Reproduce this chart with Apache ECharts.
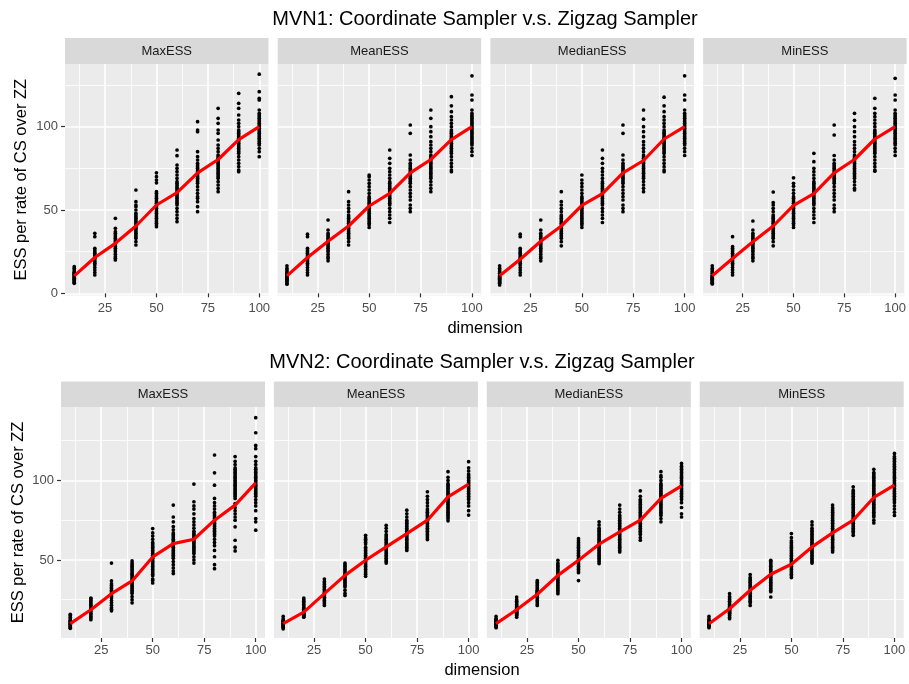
<!DOCTYPE html>
<html>
<head>
<meta charset="utf-8">
<script src="https://cdn.jsdelivr.net/npm/echarts@6/dist/echarts.min.js"></script>
<style>html,body{margin:0;padding:0;background:#fff;}#c{width:909px;height:684px;}</style>
</head>
<body>
<div id="c"></div>
<script>
// ---------- data ----------
const dims = [10, 20, 30, 40, 50, 60, 70, 80, 90, 100];
const facetLabels = ['MaxESS', 'MeanESS', 'MedianESS', 'MinESS'];
const plotTitles = ['MVN1: Coordinate Sampler v.s. Zigzag Sampler', 'MVN2: Coordinate Sampler v.s. Zigzag Sampler'];
const xTicks = [25, 50, 75, 100];
const xMinorTicks = [12.5, 37.5, 62.5, 87.5];
const yTicksTop = [0, 50, 100];
const yTicksBottom = [50, 100];
const yMinorTicks = [25, 75, 125];

// MVN1 points per dimension
const mvn1Max = [
  [6,6.5,7,7.5,8,8.5,9,9.5,10,10.5,11,11.5,12,12.5,13,14,15,16],
  [11,12.5,14,15.5,17,18,19,20,21,22,23,24,25,26,27,34,36],
  [20,21,22,23.5,25,26,27,28,29,30,31,32,33,34,35,36,37,39,45],
  [29,31,33,34,35,36,37,38,39,40,41,42,43,44,45,46,47,48,50,52,53,55,62],
  [40,41,42,43,44,45,46,47,48,49,50,51,52,53,54,55,56,57,58,59,60,61,66.3,68,70,72.3],
  [43,45,47,49,51,53,54,55,56,57,58,59,60,61,62,63,64,65,66,67,69,71,73,75,77,82.6,86],
  [49,52,55,57,58,60,62,64,66,67,68,69,70,71,72,73,74,75,76,77,78,80,82,85,97,98,103],
  [61,63,65,67,69,70,71,72,73,74,75,76,77,78,79,80,81,82,83,85,87,89,92,96,98,102,105,111],
  [73,74,76,78,80,82,84,85,86,87,88,89,90,91,92,93,94,95,96,97,98,100,102,104,107,111,114,120],
  [82,85,87,89,90,91,92,93,94,95,96,97,98,99,100,101,102,103,104,105,106,107,108,110,116,117,121,131.5]
];
const mvn1Mean = [
  [5.5,6,7,7.5,8,8.5,9,9.5,10,10.5,11,11.5,12,13,14,15,16.5],
  [11,12.5,14,15.5,17,18,19,20,21,22,23,24,25,26,27,34,35.5],
  [19.5,21,22,23.5,25,26,27,28,29,30,31,32,33,34,35,36,38,44],
  [29,31,33,34,35,36,37,38,39,40,41,42,43,44,45,46,47,49,51,53,55,61],
  [39.5,41,42,43,44,45,46,47,48,49,50,51,52,53,54,55,56,57,58,60,62,64,66,68,70,71],
  [42.5,45,47,49,51,53,54,55,56,57,58,59,60,61,62,63,64,65,66,67,69,71,73,75,78,81,86],
  [49,51,53,56,58,60,62,64,66,67,68,69,70,71,72,73,74,75,76,77,78,80,83,96,101],
  [61,63,65,67,69,70,71,72,73,74,75,76,77,78,79,80,81,82,83,85,87,89,91,94,97,100,105,110],
  [73,74,76,78,80,82,84,85,86,87,88,89,90,91,92,93,94,95,96,97,98,100,102,104,106,109,112.5,118],
  [82.7,85,87,89,90,91,92,93,94,95,96,97,98,99,100,101,102,103,104,105,106,107,108,110,116,119,130.5]
];
const mvn1Median = [
  [5,6,6.5,7,7.5,8,8.5,9,9.5,10,10.5,11,12,13,14,15,16.5],
  [11,12.5,14,15.5,17,18,19,20,21,22,23,24,25,26,27,34,35.5],
  [19.5,21,22,23.5,25,26,27,28,29,30,31,32,33,34,35,36,38,44],
  [28.5,31,33,34,35,36,37,38,39,40,41,42,43,44,45,46,47,49,51,53,55,61],
  [39.5,41,42,43,44,45,46,47,48,49,50,51,52,53,54,55,56,57,58,60,62,64,66,68,71],
  [42.5,45,47,49,51,53,54,55,56,57,58,59,60,61,62,63,64,65,66,67,69,71,73,75,78,81,86],
  [49,51,53,56,58,60,62,64,66,67,68,69,70,71,72,73,74,75,76,77,78,80,83,96,101],
  [61,63,65,67,69,70,71,72,73,74,75,76,77,78,79,80,81,82,83,85,87,89,91,94,97,100,104.5,110],
  [73,74,76,78,80,82,84,85,86,87,88,89,90,91,92,93,94,95,96,97,98,100,102,104,106,109,112.5,117.7],
  [82.7,85,87,89,90,91,92,93,94,95,96,97,98,99,100,101,102,103,104,105,106,107,108,110,116,119,130.5]
];
const mvn1Min = [
  [5.6,6,6.5,7,7.5,8,8.5,9,9.5,10,10.5,11,12,13,14,15,16.5],
  [11,12.5,14,15.5,17,18,19,20,21,22,23,24,25,26,27,28,34],
  [19.5,21,22,23.5,25,26,27,28,29,30,31,32,33,34,35,36,38,43.4],
  [28.5,31,33,34,35,36,37,38,39,40,41,42,43,44,45,46,47,49,51,53,54.5,60.8],
  [39.5,41,42,43,44,45,46,47,48,49,50,51,52,53,54,55,56,57,58,60,62,64.3,66,69.3],
  [42.5,45,47,49,51,53,54,55,56,57,58,59,60,61,62,63,64,65,66,67,69,71,73,75,79,84],
  [49,51,53,56,58,60,62,64,66,67,68,69,70,71,72,73,74,75,76,77,78,80,82.7,95,101],
  [62,63,65,67,69,70,71,72,73,74,75,76,77,78,79,80,81,82,83,85,87,89,91,94,97,100,103.8,108],
  [73.3,74,76,78,80,82,84,85,86,87,88,89,90,91,92,93,94,95,96,97,98,100,102,104,106,108,111,117],
  [82.7,85,87,89,90,91,92,93,94,95,96,97,98,99,100,101,102,103,104,105,106,107,108,110,116,119,129]
];
// MVN1 red line (per-dimension average)
const mvn1MaxLine = [10.5, 21.5, 30, 40.4, 53, 60.4, 72.3, 80.3, 92.2, 100];
const mvn1MeanLine = [10.5, 21.5, 31.2, 40.4, 52.4, 60, 72.3, 80.3, 92.2, 100];
const mvn1MedianLine = [10.5, 20.5, 31.2, 40.4, 52.8, 59.8, 72.3, 79.7, 92.6, 100];
const mvn1MinLine = [10.5, 20.9, 30.9, 40.4, 52.8, 59.8, 72.3, 80.3, 92.6, 100];

// MVN2 points per dimension
const mvn2Max = [
  [7,7.5,8,8.5,9,9.5,10,10.5,11,11.5,12,13,14,15,15.8],
  [12.4,13.5,14.5,15.5,16.5,17.5,18.5,19.5,20.5,21.5,22.5,23.5,24.5,25.5,26],
  [18,19,20,21.5,23,24.5,26,27,28,29,30,31,32,33,34,35,36.8,48],
  [23,25,27,29,30,31,32,33,34,35,36,37,38,39,40,41,42,43,44,45,46,47,48,49.4],
  [35.5,37,38,40,41,42,43,44,45,46,47,48,49,50,51,52,53,54,55,56,57,58,59,60,61,63,65,67,69.7],
  [41.4,43,45,47,49,51,52,53,54,55,56,57,58,59,60,61,62,63,64,65,66,67,69,71,74,77,84.5],
  [48,50,52,54,55,56,57,58,59,60,61,62,63,64,65,66,67,68,70,72,74,76,79,82,84,86.6,97.7],
  [44.5,47,52,56,59,61,63,65,66,67,68,69,70,71,72,73,74,75,76,77,78,79,80,82,84,86,88.7,97,104.8,116],
  [55.7,58,62.4,70.8,75,77,79,81,83,85.5,88.7,90,91,92,93,94,95,96,97,98,99,100,101,102,103,104,105,106,107,108,110,112,115],
  [68.7,74,76,81,84,86,88,90,91,92,93,94,95,96,97,98,99,100,101,102,103,104,105,106,107,108,110,112,115,120,122,130,139.5]
];
const mvn2Mean = [
  [6.7,7.5,8,8.5,9,9.5,10,10.5,11,11.5,12,13,14.5],
  [14,14.5,15,15.5,16,16.5,17,17.5,18,18.5,19,19.5,20,21,22,23,24,25,26],
  [21.4,22.5,23.5,24.5,25.5,26.5,27.5,28.5,29.5,30.5,31.5,32.5,33.5,34.5,35.5,36.5,38],
  [27.7,29,31,33,34,35,36,37,38,39,40,41,42,43,44,45,46,47,48],
  [39.7,41,42,43,44,45,46,47,48,49,50,51,52,53,54,55,56,57,58,60,61,62,63,64,65.5],
  [48,49,50,51,52,53,54,55,56,57,58,59,60,61,62,63,64,65,66,68,70,71.8],
  [56,57,58,59,60,61,62,63,64,65,66,67,68,69,70,71,72,73,74,75,77,79,81.3],
  [62.8,64,65,66,67,68,69,70,71,72,73,74,75,76,77,78,79,80,81,82,84,86,88,90,92.9],
  [74.6,76,77,78,79,80,81,82,83,84,85,86,87,88,89,90,91,92,93,94,95,96,97,98,100,102,105.5],
  [78.2,81,84,86,88,89,90,91,92,93,94,95,96,97,98,99,100,101,102,103,104,106,108,111.8]
];
const mvn2Median = [
  [7.4,8,8.5,9,9.5,10,10.5,11,11.5,12,12.5,13,14.5],
  [14,15,15.5,16,16.5,17,17.5,18,18.5,19,19.5,20,20.5,21,22,23,24,25,26.7],
  [21.4,22.5,23.5,24.5,25.5,26.5,27.5,28,28.5,29,29.5,30,30.5,31,32,33,34,35,36,37],
  [28.8,30,31,32,33,34,35,36,37,38,39,40,41,42,43,44,45,46,47,48,49.8],
  [37,42,43,44,45,46,47,48,49,50,51,52,53,54,55,56,57,58,59,60,61,62,63.4],
  [47.7,49,50,51,52,53,54,55,56,57,58,59,60,61,62,63,64,65,66,67,68,69,70,72,74],
  [55,56,57,58,59,60,61,62,63,64,65,66,67,68,69,70,71,72,73,74,75,76,77,78,80,82,84.5],
  [62.4,64,66,67,68,69,70,71,72,73,74,75,76,77,78,79,80,81,82,83,84,85,86,87,88,90,93.5],
  [74,76,78,79,80,81,82,83,84,85,86,87,88,89,90,91,92,93,94,95,96,97,98,100,102,103,105.5],
  [77,79,83,86,88,89,90,91,92,93,94,95,96,97,98,99,100,101,102,103,104,105,106,107,108,109,110.7]
];
const mvn2Min = [
  [7.4,8,8.5,9,9.5,10,10.5,11,11.5,12,13,14.5],
  [13,14,15,16,16.5,17,17.5,18,18.5,19,19.5,20,20.5,21,22,23,24,25,26,27,28.8],
  [21.4,23,24,25,26,27,28,29,30,31,32,33,34,35,36,37,38,39,40.8],
  [26.7,30,31,32,33,34,35,36,37,38,39,40,41,42,43,44,45,46,47,48,49,49.8],
  [38.9,40,41,42,43,44,45,46,47,48,49,50,51,52,53,54,55,56,57,58,59,60,61,62,64,66.6],
  [48,49,50,51,52,53,54,55,56,57,58,59,60,61,62,63,64,65,66,67,68,69,70,72,74],
  [55,56,57,58,59,60,61,62,63,64,65,66,67,68,69,70,71,72,73,74,75,76,77,78,79,80,81,82,83,84.5],
  [65.5,67,68,69,70,71,72,73,74,75,76,77,78,79,80,81,82,83,84,85,86,87,88,89,90,91,92,93,94,96],
  [73.3,75,77,78,79,80,81,82,83,84,85,86,87,88,89,90,91,92,93,94,95,96,97,98,99,100,101,102,103,104,105,107],
  [78,80,82,84,86,87,88,89,90,91,92,93,94,95,96,97,98,99,100,101,102,103,104,105,106,107,108,109,110,111,112,113,114,115,117]
];
// MVN2 red line (per-dimension average)
const mvn2MaxLine = [9.9, 18.7, 28.8, 36.8, 51.9, 60.3, 63, 75, 84.5, 98.5];
const mvn2MeanLine = [9.9, 17.2, 28.8, 40.3, 49.8, 58.2, 66.6, 75, 89.7, 97.7];
const mvn2MedianLine = [9.9, 18.7, 28.4, 40.3, 49.8, 59.9, 67.6, 75, 88.7, 96.6];
const mvn2MinLine = [9.9, 19.3, 30.9, 41, 47.3, 58.2, 67, 75, 89.3, 97.1];

// ---------- layout ----------
const FONT = '"Liberation Sans", Arial, Helvetica, sans-serif';
const plots = [
  { title: plotTitles[0], titleX: 485, titleY: 19, stripTop: 38, top: 64, height: 231.5, left0: 65, step: 212.7, width: 203.5,
    ymin: -1.3, ymax: 137.6, yTicks: yTicksTop, yTitleX: 21.5, xTitleX: 485, xTitleY: 328,
    pts: [mvn1Max, mvn1Mean, mvn1Median, mvn1Min], lines: [mvn1MaxLine, mvn1MeanLine, mvn1MedianLine, mvn1MinLine] },
  { title: plotTitles[1], titleX: 482, titleY: 362, stripTop: 381.5, top: 407, height: 231, left0: 61, step: 212.9, width: 204,
    ymin: 0.9, ymax: 146.2, yTicks: yTicksBottom, yTitleX: 18.5, xTitleX: 482, xTitleY: 670,
    pts: [mvn2Max, mvn2Mean, mvn2Median, mvn2Min], lines: [mvn2MaxLine, mvn2MeanLine, mvn2MedianLine, mvn2MinLine] }
];

const grid = [], xAxis = [], yAxis = [], series = [], graphic = [];
let g = 0;
plots.forEach((p) => {
  graphic.push({ type: 'text', x: p.titleX, y: p.titleY,
    style: { text: p.title, font: '20px ' + FONT, fill: '#000', textAlign: 'center', textVerticalAlign: 'middle' } });
  graphic.push({ type: 'text', x: p.yTitleX, y: p.top + p.height / 2, rotation: Math.PI / 2,
    style: { text: 'ESS per rate of CS over ZZ', font: '16.5px ' + FONT, fill: '#000', textAlign: 'center', textVerticalAlign: 'middle' } });
  graphic.push({ type: 'text', x: p.xTitleX, y: p.xTitleY,
    style: { text: 'dimension', font: '16.5px ' + FONT, fill: '#000', textAlign: 'center', textVerticalAlign: 'middle' } });
  for (let i = 0; i < 4; i++) {
    const left = p.left0 + i * p.step;
    grid.push({ left: left, top: p.top, width: p.width, height: p.height, show: true,
      backgroundColor: '#EBEBEB', borderWidth: 0, containLabel: false });
    graphic.push({ type: 'rect', shape: { x: left, y: p.stripTop, width: p.width, height: p.top - p.stripTop },
      style: { fill: '#D9D9D9' }, silent: true });
    graphic.push({ type: 'text', x: left + p.width / 2, y: (p.stripTop + p.top) / 2,
      style: { text: facetLabels[i], font: '13px ' + FONT, fill: '#1A1A1A', textAlign: 'center', textVerticalAlign: 'middle' } });
    // major x
    xAxis.push({ type: 'value', gridIndex: g, min: 5.5, max: 104.5, position: 'bottom',
      axisLine: { show: false },
      axisTick: { show: true, length: 4, customValues: xTicks, lineStyle: { color: '#333', width: 1.2 } },
      axisLabel: { customValues: xTicks, color: '#4D4D4D', fontSize: 13, fontFamily: FONT, margin: 6 },
      splitLine: { show: true, lineStyle: { color: '#FFFFFF', width: 1.6 } }, z: 2 });
    // minor x
    xAxis.push({ type: 'value', gridIndex: g, min: 5.5, max: 104.5, position: 'top',
      axisLine: { show: false },
      axisTick: { show: false, customValues: xMinorTicks },
      axisLabel: { show: false, customValues: xMinorTicks },
      splitLine: { show: true, lineStyle: { color: '#FFFFFF', width: 0.8 } }, z: 1 });
    // major y
    yAxis.push({ type: 'value', gridIndex: g, min: p.ymin, max: p.ymax, position: 'left',
      axisLine: { show: false },
      axisTick: { show: i === 0, length: 4, customValues: p.yTicks, lineStyle: { color: '#333', width: 1.2 } },
      axisLabel: { show: i === 0, customValues: p.yTicks, color: '#4D4D4D', fontSize: 13, fontFamily: FONT, margin: 7 },
      splitLine: { show: true, lineStyle: { color: '#FFFFFF', width: 1.6 } }, z: 2 });
    // minor y
    yAxis.push({ type: 'value', gridIndex: g, min: p.ymin, max: p.ymax, position: 'right',
      axisLine: { show: false },
      axisTick: { show: false, customValues: yMinorTicks },
      axisLabel: { show: false, customValues: yMinorTicks },
      splitLine: { show: true, lineStyle: { color: '#FFFFFF', width: 0.8 } }, z: 1 });
    const pts = [];
    p.pts[i].forEach((col, j) => col.forEach((v) => pts.push([dims[j], v])));
    series.push({ type: 'scatter', xAxisIndex: 2 * g, yAxisIndex: 2 * g, data: pts,
      symbol: 'circle', symbolSize: 3.7, itemStyle: { color: '#000', opacity: 1 }, silent: true, z: 3 });
    series.push({ type: 'line', xAxisIndex: 2 * g, yAxisIndex: 2 * g, data: dims.map((d, j) => [d, p.lines[i][j]]),
      showSymbol: false, symbol: 'none', lineStyle: { color: '#FF0000', width: 3.2 }, silent: true, z: 4 });
    g++;
  }
});

const chart = echarts.init(document.getElementById('c'), null, { renderer: 'canvas' });
chart.setOption({
  animation: false,
  backgroundColor: '#FFFFFF',
  grid: grid, xAxis: xAxis, yAxis: yAxis, series: series, graphic: graphic
});
</script>
</body>
</html>
